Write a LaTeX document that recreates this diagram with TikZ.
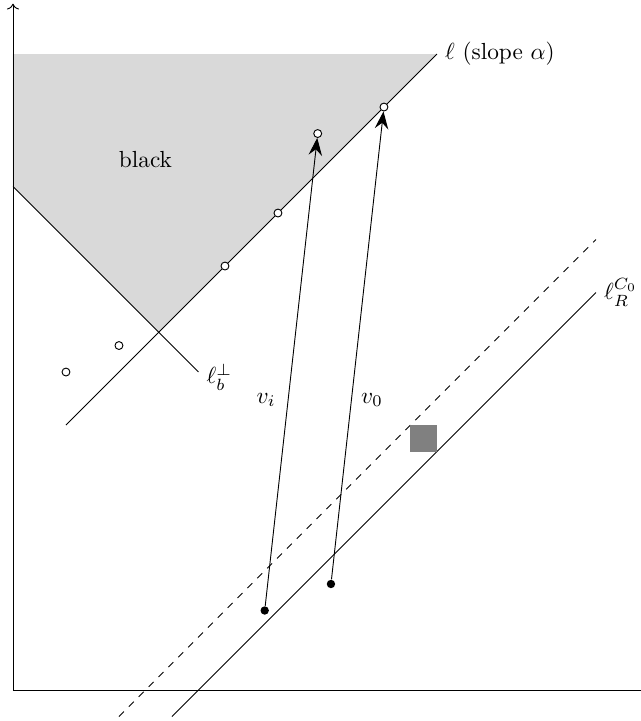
\documentclass[tikz,border=0pt]{standalone}
\usepackage{amsmath}
\usepackage{amssymb}
\usepackage{tikz}
\usetikzlibrary{arrows.meta}

\begin{document}
\begin{tikzpicture}[scale=0.4,
  opendot/.style={circle,draw,fill=white,inner sep=0pt,minimum size=3.4pt},
  fulldot/.style={circle,fill=black,inner sep=0pt,minimum size=3.6pt},
  vec/.style={-{Stealth[length=7.5pt,width=5.8pt,inset=2.6pt]}}]
\useasboundingbox (-0.49,-1.17) rectangle (23.7,26.04);
\coordinate (O) at (0,0);
\coordinate (X) at (24,0);
\coordinate (Y) at (0,25.9);
\coordinate (A) at (2,10);
\coordinate (B) at (16,24);
\coordinate (C) at (0,19);
\coordinate (D) at (7,12);
\coordinate (M) at (5.5,13.5);
\coordinate (E) at (4,-1);
\coordinate (F) at (22,17);
\coordinate (G) at (6,-1);
\coordinate (H) at (22,15);
\fill[gray!30] (0,24) -- (B) -- (M) -- (C) -- cycle;
\draw[->] (O) -- (Y);
\draw[->] (O) -- (X);
\draw (A) -- (B) node[right] (lab) {\(\ell\) (slope \(\alpha\))};
\draw (C) -- (D);
\node[anchor=west] (labperp) at (7,11.8) {\(\ell_b^{\perp}\)};
\draw[dashed] (E) -- (F);
\draw (G) -- (H) node[right] (labR) {\(\ell_R^{C_0}\)};
\fill[gray] (15,9) rectangle (16,10);
\node (blk) at (5,20) {black};
\node[opendot] (p1) at (2,12) {};
\node[opendot] (p2) at (4,13) {};
\node[opendot] (p3) at (8,16) {};
\node[opendot] (p4) at (10,18) {};
\node[opendot] (p5) at (11.5,21) {};
\node[opendot] (p6) at (14,22) {};
\node[fulldot] (q1) at (9.5,3) {};
\node[fulldot] (q2) at (12,4) {};
\draw[vec] (q1) -- (p5);
\draw[vec] (q2) -- (p6);
\node (vi) at (9.55,10.94) {\(v_i\)};
\node (vz) at (13.55,10.94) {\(v_0\)};
\end{tikzpicture}
\end{document}
